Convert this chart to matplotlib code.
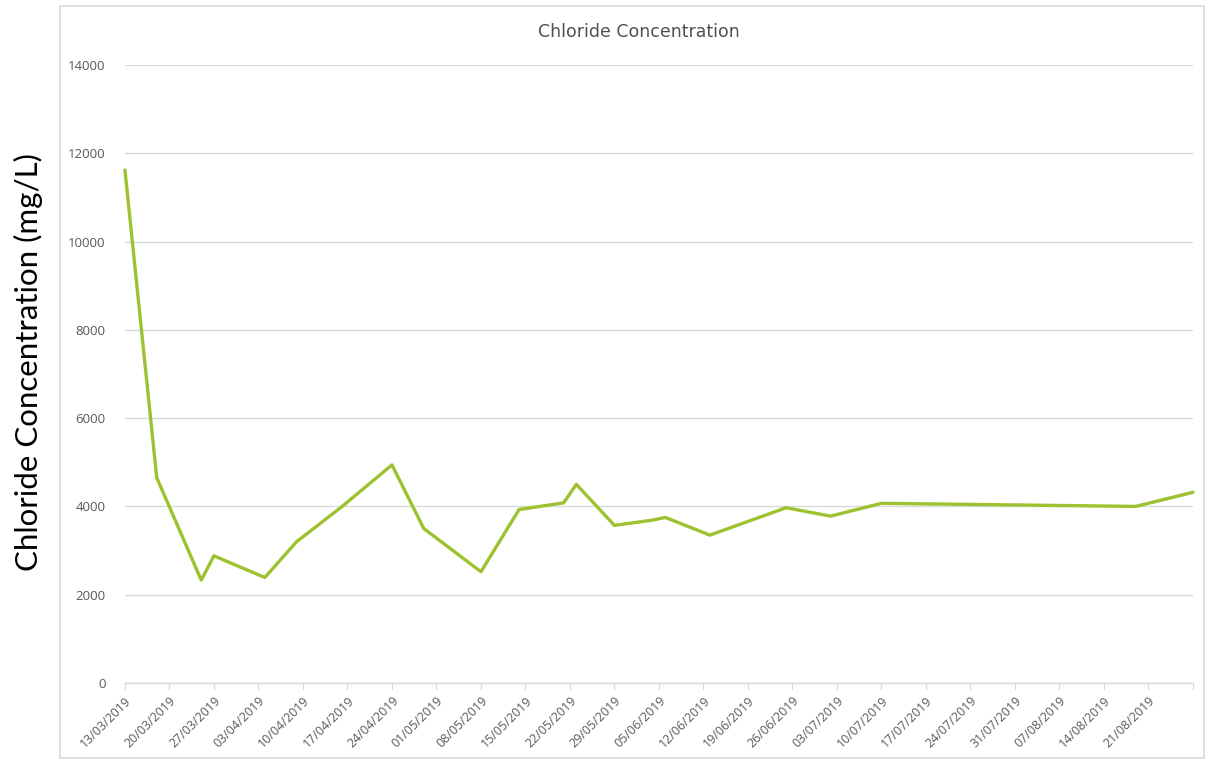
import matplotlib
matplotlib.use("Agg")
import matplotlib.pyplot as plt
import pandas as pd
from matplotlib.patches import Rectangle

# sample dates and chloride readings (mg/L)
sample_dates = [
    "13/03/2019", "18/03/2019", "25/03/2019", "27/03/2019", "04/04/2019",
    "09/04/2019", "16/04/2019", "24/04/2019", "29/04/2019", "08/05/2019",
    "14/05/2019", "21/05/2019", "23/05/2019", "29/05/2019", "04/06/2019",
    "06/06/2019", "13/06/2019", "25/06/2019", "02/07/2019", "10/07/2019",
    "19/08/2019", "28/08/2019",
]
chloride = [
    11620, 4650, 2330, 2880, 2390,
    3200, 3980, 4940, 3500, 2520,
    3930, 4080, 4500, 3570, 3690,
    3750, 3350, 3970, 3780, 4070,
    4000, 4320,
]

tick_start = "13/03/2019"
tick_end = "28/08/2019"
y_ticks = [0, 2000, 4000, 6000, 8000, 10000, 12000, 14000]

LINE_COLOR = "#9DC22F"
GRID_COLOR = "#D9D9D9"
TEXT_COLOR = "#595959"

dates = pd.to_datetime(sample_dates, format="%d/%m/%Y")
week_ticks = pd.date_range(pd.to_datetime(tick_start, format="%d/%m/%Y"),
                           pd.to_datetime(tick_end, format="%d/%m/%Y"), freq="7D")

fig = plt.figure(figsize=(12.06, 7.62), dpi=100)
ax = fig.add_axes([0.1036, 0.1037, 0.8856, 0.811])

# light frame around the chart area
fig.patches.append(Rectangle((60 / 1206, 4 / 762), 1144 / 1206, 752 / 762,
                             transform=fig.transFigure, fill=False,
                             edgecolor=GRID_COLOR, linewidth=1.2))

ax.plot(dates, chloride, color=LINE_COLOR, linewidth=2.4,
        solid_joinstyle="round", solid_capstyle="round", clip_on=False)

ax.set_ylim(0, 14000)
ax.set_yticks(y_ticks)
ax.set_xlim(week_ticks[0], week_ticks[-1])
ax.set_xticks(week_ticks)
labels = [d.strftime("%d/%m/%Y") for d in week_ticks]
labels[-1] = ""
ax.set_xticklabels(labels, rotation=45, ha="right", rotation_mode="anchor")

ax.grid(axis="y", color=GRID_COLOR, linewidth=1.0)
ax.set_axisbelow(True)
for side in ["top", "right", "left"]:
    ax.spines[side].set_visible(False)
ax.spines["bottom"].set_color(GRID_COLOR)
ax.spines["bottom"].set_linewidth(1.0)

ax.tick_params(axis="y", length=0, pad=14, labelsize=9.5, labelcolor=TEXT_COLOR)
ax.tick_params(axis="x", length=5, color=GRID_COLOR, pad=3, labelsize=9,
               labelcolor=TEXT_COLOR)
for lab in ax.get_xticklabels() + ax.get_yticklabels():
    lab.set_fontfamily("Open Sans")

fig.text(639 / 1206, 1 - 32 / 762, "Chloride Concentration", ha="center", va="center",
         fontsize=12.5, color="#505050", family="DejaVu Sans")
fig.text(28 / 1206, 1 - 362 / 762, "Chloride Concentration (mg/L)", ha="center",
         va="center", rotation=90, fontsize=22.5, color="black", family="Lato")

fig.savefig("out.png", dpi=100)
